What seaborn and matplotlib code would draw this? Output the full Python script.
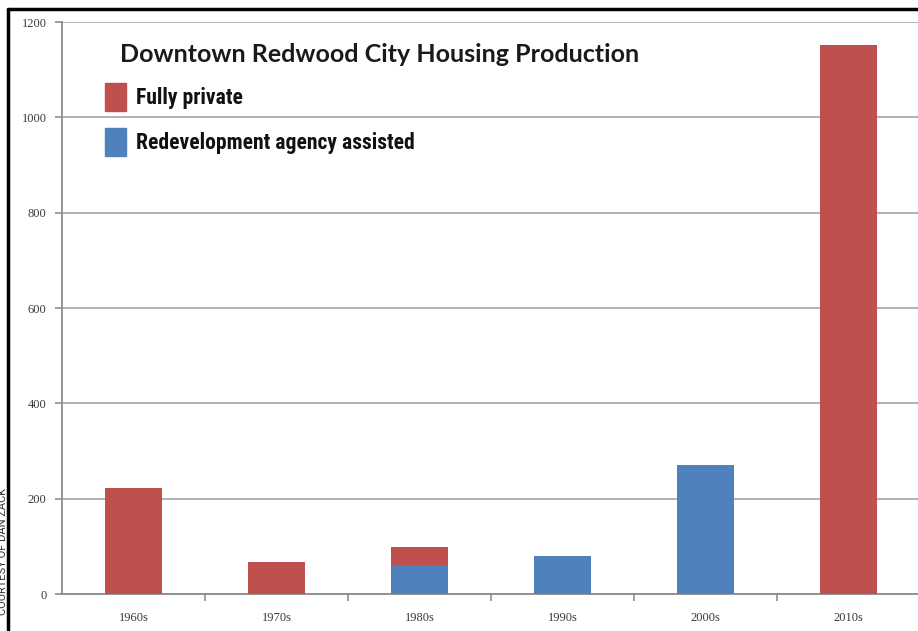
import pandas as pd
import matplotlib.pyplot as plt
import matplotlib.patches as mpatches
from matplotlib.lines import Line2D
import seaborn as sns

# values
decades = ["1960s", "1970s", "1980s", "1990s", "2000s", "2010s"]
fully_private = [222, 67, 38, 0, 0, 1152]
agency_assisted = [0, 0, 61, 80, 271, 0]

red = "#C0504D"
blue = "#4F81BD"

df = pd.DataFrame({"decade": decades,
                   "private": fully_private,
                   "agency": agency_assisted})
df["total"] = df["private"] + df["agency"]

sns.set_style("white")
plt.rcParams['font.family'] = ['Lato', 'DejaVu Sans']

fig = plt.figure(figsize=(9.18, 6.31), dpi=100)
ax = fig.add_axes([0.0675, 0.0586, 0.935, 0.9065])

# stacked: total in red, agency part over it in blue
sns.barplot(data=df, x="decade", y="total", order=decades, color=red,
            width=0.4, saturation=1, linewidth=0, ax=ax, zorder=3)
sns.barplot(data=df, x="decade", y="agency", order=decades, color=blue,
            width=0.4, saturation=1, linewidth=0, ax=ax, zorder=4)

ax.set_ylim(0, 1200)
ax.set_xlim(-0.5, 5.5)
ax.set_yticks(range(0, 1201, 200))
ax.set_xlabel("")
ax.set_ylabel("")
ax.yaxis.grid(True, color="#ababab", linewidth=1.3, zorder=0)
ax.set_axisbelow(True)

for s in ["top", "right"]:
    ax.spines[s].set_visible(False)
for s in ["left", "bottom"]:
    ax.spines[s].set_color("#8c8c8c")
    ax.spines[s].set_linewidth(1.3)

tick_font = {"family": ["Liberation Serif", "DejaVu Serif"], "size": 9}
ax.tick_params(axis="y", which="major", length=5, color="#8c8c8c", width=1.2,
               labelcolor="#3a3a3a", pad=6, direction="out", left=True)
ax.tick_params(axis="x", which="major", length=0, labelcolor="#3a3a3a", pad=13)
for lab in ax.get_xticklabels() + ax.get_yticklabels():
    lab.set_fontfamily(tick_font["family"])
    lab.set_fontsize(tick_font["size"])
ax.set_xticks([i + 0.5 for i in range(5)], minor=True)
ax.tick_params(axis="x", which="minor", length=5, color="#8c8c8c", width=1.2,
               direction="out", bottom=True)

fig.text(120 / 918, 1 - 55 / 631, "Downtown Redwood City Housing Production",
         fontsize=18, fontweight="bold", color="#1a1a1a", va="center", ha="left")

handles = [mpatches.Patch(color=red, label="Fully private"),
           mpatches.Patch(color=blue, label="Redevelopment agency assisted")]
leg = fig.legend(handles=handles, loc="upper left",
                 bbox_to_anchor=(96 / 918, 1 - 74 / 631), frameon=False,
                 borderaxespad=0, borderpad=0.4,
                 handlelength=1.0, handleheight=1.6, handletextpad=0.46,
                 labelspacing=0.82,
                 prop={"family": ["Roboto Condensed", "Roboto", "DejaVu Sans"],
                       "weight": "bold", "size": 15.6})
for t in leg.get_texts():
    t.set_color("#111111")

# black frame around the picture (left and top edges visible)
fig.add_artist(Line2D([8 / 918, 8 / 918], [0, 1 - 9 / 631], color="black",
                      linewidth=2.5, transform=fig.transFigure))
fig.add_artist(Line2D([8 / 918, 1], [1 - 9 / 631, 1 - 9 / 631], color="black",
                      linewidth=2.5, transform=fig.transFigure))

fig.text(0.0035, 1 - 488 / 631, "COURTESY OF DAN ZACK", rotation=90,
         ha="center", va="top", fontsize=8, color="#333333",
         family=["Roboto", "DejaVu Sans"])

fig.savefig("out.png", dpi=100)
